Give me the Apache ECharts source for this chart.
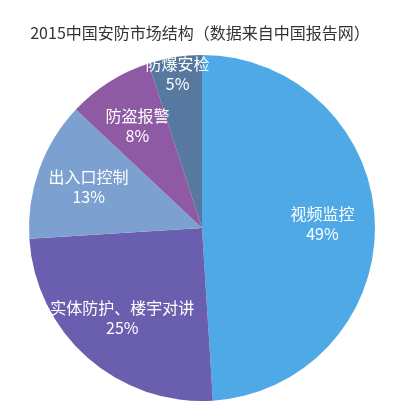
<!DOCTYPE html>
<html>
<head>
<meta charset="utf-8">
<script src="https://cdn.jsdelivr.net/npm/echarts@6/dist/echarts.min.js"></script>
<style>
  html, body { margin: 0; padding: 0; background: #fff; }
  #chart { width: 400px; height: 417px; }
</style>
</head>
<body>
<div id="chart"></div>
<script>
const categories = ["视频监控", "实体防护、楼宇对讲", "出入口控制", "防盗报警", "防爆安检"];
const shares = [49, 25, 13, 8, 5];
const colors = ["#4fa9e6", "#6a5fae", "#7ca1d1", "#8f5aa4", "#57789f"];
// slices whose label sits near the rim instead of mid-ring
const rimLabels = ["防爆安检"];

const chart = echarts.init(document.getElementById("chart"));

const pieData = categories.map((name, i) => ({
  name,
  value: shares[i],
  itemStyle: { color: colors[i] },
}));

const labelData = (onRim) =>
  categories.map((name, i) => ({
    name,
    value: shares[i],
    label: { show: rimLabels.includes(name) === onRim },
  }));

const labelStyle = {
  position: "inner",
  formatter: "{b}\n{c}%",
  color: "#fff",
  fontSize: 16,
  lineHeight: 20,
  overflow: "none",
  fontFamily: "Noto Sans CJK SC",
};

// transparent ring that only carries labels
function labelRing(radius, onRim) {
  return {
    type: "pie",
    center: [202, 228],
    radius,
    startAngle: 90,
    clockwise: true,
    silent: true,
    avoidLabelOverlap: false,
    minShowLabelAngle: 0,
    itemStyle: { color: "transparent", borderWidth: 0 },
    label: labelStyle,
    labelLine: { show: false },
    labelLayout: { hideOverlap: false },
    data: labelData(onRim),
  };
}

const option = {
  backgroundColor: "#fff",
  textStyle: { fontFamily: "Noto Sans CJK SC" },
  title: {
    text: "2015中国安防市场结构（数据来自中国报告网）",
    left: "center",
    top: 20,
    textStyle: {
      fontSize: 16,
      fontWeight: "normal",
      color: "#333",
      fontFamily: "Noto Sans CJK SC",
    },
  },
  series: [
    {
      type: "pie",
      center: [202, 228],
      radius: [0, 173],
      startAngle: 90,
      clockwise: true,
      silent: true,
      label: { show: false },
      labelLine: { show: false },
      itemStyle: { borderWidth: 0 },
      data: pieData,
    },
    labelRing([62, 173], false),
    labelRing([133, 173], true),
  ],
};

chart.setOption(option);
</script>
</body>
</html>
